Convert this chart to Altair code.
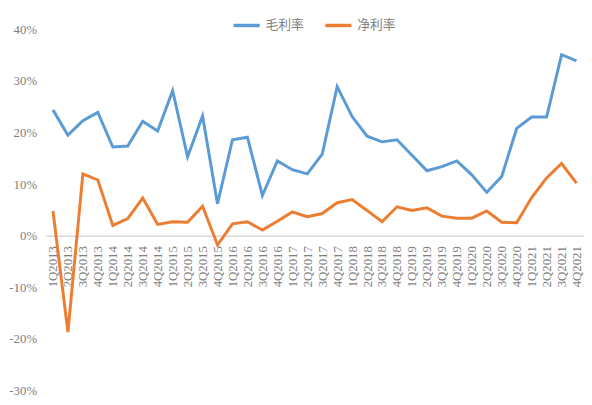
import altair as alt
import pandas as pd

quarters = [f"{q}Q{y}" for y in range(2013, 2022) for q in range(1, 5)]

gross_margin = [24.4, 19.5, 22.3, 23.9, 17.2, 17.4, 22.2, 20.3,
                28.1, 15.3, 23.2, 6.2, 18.6, 19.1, 7.8, 14.5,
                12.8, 12.0, 15.8, 28.9, 23.1, 19.3, 18.2, 18.6,
                15.6, 12.6, 13.4, 14.5, 11.8, 8.4, 11.5, 20.8,
                23.0, 23.0, 35.1, 33.9]

net_margin = [4.8, -18.7, 12.0, 10.8, 2.0, 3.3, 7.3, 2.2,
              2.7, 2.6, 5.7, -1.8, 2.3, 2.7, 1.1, 2.8,
              4.6, 3.7, 4.3, 6.4, 7.0, 4.9, 2.7, 5.6,
              4.9, 5.4, 3.8, 3.4, 3.4, 4.8, 2.6, 2.5,
              7.4, 11.2, 14.0, 10.2]

series_names = ["毛利率", "净利率"]
series_colors = ["#5B9BD5", "#ED7D31"]
y_ticks = [-30, -20, -10, 0, 10, 20, 30, 40]

rows = []
for i, q in enumerate(quarters):
    rows.append({"quarter": q, "series": series_names[0], "value": gross_margin[i], "order": i})
    rows.append({"quarter": q, "series": series_names[1], "value": net_margin[i], "order": i})
df = pd.DataFrame(rows)

H = 366
W = 546
SERIF = "Liberation Serif"

chart = alt.Chart(df).mark_line(strokeWidth=3, strokeJoin="miter").encode(
    x=alt.X("quarter:N", sort=quarters,
            scale=alt.Scale(type="point", padding=0.5),
            axis=alt.Axis(title=None, labelAngle=270, offset=-(H * 30 / 70),
                          domainColor="#D9D9D9", domainWidth=1.5, ticks=False,
                          labelFont=SERIF, labelFontSize=13,
                          labelColor="#7F7F7F", labelPadding=10)),
    y=alt.Y("value:Q", scale=alt.Scale(domain=[-30, 40], nice=False, zero=False),
            axis=alt.Axis(title=None, values=y_ticks, grid=False, domain=False, ticks=False,
                          labelExpr="datum.value + '%'", labelFont=SERIF,
                          labelFontSize=13, labelColor="#7F7F7F", labelPadding=9)),
    color=alt.Color("series:N", sort=series_names,
                    scale=alt.Scale(domain=series_names, range=series_colors),
                    legend=alt.Legend(title=None, orient="none", legendX=189, legendY=-19,
                                      direction="horizontal", symbolType="stroke",
                                      symbolStrokeWidth=3.5, symbolSize=700,
                                      labelFont="Noto Sans CJK SC", labelFontSize=13,
                                      labelColor="#7F7F7F", columnPadding=13,
                                      labelOffset=4)),
    order="order:Q",
).properties(width=W, height=H, padding={"left": 0, "top": 0, "right": 0, "bottom": 0}
).configure_view(stroke=None)

chart.save("out.html", embed_options={"renderer": "svg", "actions": False})
